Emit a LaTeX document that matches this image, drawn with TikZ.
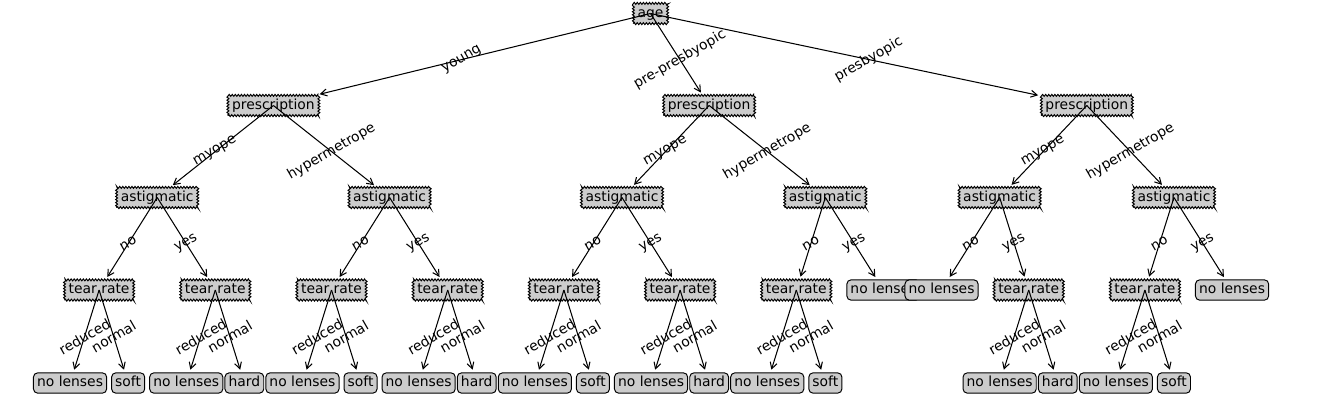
\documentclass[tikz,border=0pt]{standalone}
\usepackage{fontspec}
\setmainfont{DejaVu Sans}
\usetikzlibrary{arrows.meta,decorations.pathmorphing,calc}
\definecolor{boxgray}{gray}{0.8}
\begin{document}
\begin{tikzpicture}[x=0.72pt,y=-0.72pt,
  every node/.style={font=\fontsize{10}{12}\selectfont},
  decision/.style={draw, fill=boxgray, line width=0.7pt, decorate,
    decoration={zigzag, segment length=2.2pt, amplitude=0.7pt},
    inner xsep=3pt, inner ysep=2.5pt, text height=7.4pt, text depth=2.2pt},
  leaf/.style={draw, fill=boxgray, line width=0.7pt, rounded corners=3pt,
    inner xsep=2.6pt, inner ysep=2.5pt, text height=7.4pt, text depth=2.2pt},
  edge/.style={-{Straight Barb[length=4.5pt,width=5pt]}, line width=0.75pt, shorten >=2pt},
  elabel/.style={rotate=30, inner sep=0pt}
]
\path[use as bounding box] (0,0) rectangle (1339,410);

% level 0
\node[decision] (age) at (650.5,13.5) {age};
% subtree young
\node[decision] (p1) at (273.4,105.5) {prescription};
\node[decision] (a1) at (157.2,197.5) {astigmatic};
\node[decision] (t1) at (99.1,290) {tear rate};
\node[leaf] (l0) at (70.05,383) {no lenses};
\node[leaf] (l1) at (128.15,383) {soft};
\node[decision] (t2) at (215.3,290) {tear rate};
\node[leaf] (l2) at (186.25,383) {no lenses};
\node[leaf] (l3) at (244.35,383) {hard};
\node[decision] (a2) at (389.6,197.5) {astigmatic};
\node[decision] (t3) at (331.5,290) {tear rate};
\node[leaf] (l4) at (302.45,383) {no lenses};
\node[leaf] (l5) at (360.55,383) {soft};
\node[decision] (t4) at (447.7,290) {tear rate};
\node[leaf] (l6) at (418.65,383) {no lenses};
\node[leaf] (l7) at (476.75,383) {hard};
% subtree pre-presbyopic
\node[decision] (p2) at (709.15,105.5) {prescription};
\node[decision] (a3) at (622,197.5) {astigmatic};
\node[decision] (t5) at (563.9,290) {tear rate};
\node[leaf] (l8) at (534.85,383) {no lenses};
\node[leaf] (l9) at (592.95,383) {soft};
\node[decision] (t6) at (680.1,290) {tear rate};
\node[leaf] (l10) at (651.05,383) {no lenses};
\node[leaf] (l11) at (709.15,383) {hard};
\node[decision] (a4) at (825.35,197.5) {astigmatic};
\node[decision] (t7) at (796.3,290) {tear rate};
\node[leaf] (l12) at (767.25,383) {no lenses};
\node[leaf] (l13) at (825.35,383) {soft};
\node[leaf] (l14) at (883.45,290) {no lenses};
% subtree presbyopic
\node[decision] (p3) at (1086.8,105.5) {prescription};
\node[decision] (a5) at (999.65,197.5) {astigmatic};
\node[leaf] (l15) at (941.55,290) {no lenses};
\node[decision] (t8) at (1028.7,290) {tear rate};
\node[leaf] (l16) at (999.65,383) {no lenses};
\node[leaf] (l17) at (1057.75,383) {hard};
\node[decision] (a6) at (1173.95,197.5) {astigmatic};
\node[decision] (t9) at (1144.9,290) {tear rate};
\node[leaf] (l18) at (1115.85,383) {no lenses};
\node[leaf] (l19) at (1173.95,383) {soft};
\node[leaf] (l20) at (1232.05,290) {no lenses};

% edges
\foreach \p/\c in {age/p1,age/p2,age/p3,
  p1/a1,p1/a2,p2/a3,p2/a4,p3/a5,p3/a6,
  a1/t1,a1/t2,a2/t3,a2/t4,a3/t5,a3/t6,a4/t7,a4/l14,a5/l15,a5/t8,a6/t9,a6/l20,
  t1/l0,t1/l1,t2/l2,t2/l3,t3/l4,t3/l5,t4/l6,t4/l7,t5/l8,t5/l9,t6/l10,t6/l11,
  t7/l12,t7/l13,t8/l16,t8/l17,t9/l18,t9/l19}
  \draw[edge] (\p.center) -- (\c);

% edge labels
\foreach \p/\c/\t in {age/p1/young,age/p2/pre-presbyopic,age/p3/presbyopic,
  p1/a1/myope,p1/a2/hypermetrope,p2/a3/myope,p2/a4/hypermetrope,p3/a5/myope,p3/a6/hypermetrope,
  a1/t1/no,a1/t2/yes,a2/t3/no,a2/t4/yes,a3/t5/no,a3/t6/yes,a4/t7/no,a4/l14/yes,a5/l15/no,a5/t8/yes,a6/t9/no,a6/l20/yes,
  t1/l0/reduced,t1/l1/normal,t2/l2/reduced,t2/l3/normal,t3/l4/reduced,t3/l5/normal,t4/l6/reduced,t4/l7/normal,
  t5/l8/reduced,t5/l9/normal,t6/l10/reduced,t6/l11/normal,t7/l12/reduced,t7/l13/normal,
  t8/l16/reduced,t8/l17/normal,t9/l18/reduced,t9/l19/normal}
  \node[elabel] at ($(\p.center)!0.5!(\c.center)$) {\t};
\end{tikzpicture}
\end{document}
